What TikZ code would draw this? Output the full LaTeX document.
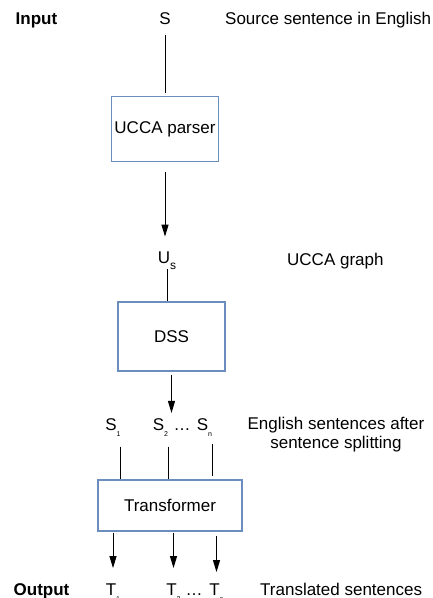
\documentclass[tikz,border=0pt]{standalone}
\usepackage{fontspec}
\setmainfont{Liberation Sans}
\usetikzlibrary{arrows.meta}
\definecolor{boxblue}{RGB}{108,142,191}
\newcommand{\lowsub}[2][7]{\raisebox{-6.5pt}{\fontsize{#1}{#1}\selectfont #2}}
\tikzset{
  lbl/.style={inner sep=0pt, font=\fontsize{17}{19}\selectfont},
  hdr/.style={inner sep=0pt, font=\fontsize{17}{19}\selectfont\bfseries},
  procbox/.style={draw=boxblue, line width=1.2pt, inner sep=0pt, font=\fontsize{17}{19}\selectfont},
  conn/.style={line width=1pt},
  flow/.style={line width=1pt, -{Triangle[width=7pt,length=12pt]}}
}

\begin{document}
\begin{tikzpicture}[x=1pt,y=-1pt]
		%%%%% START %%%%%
		\useasboundingbox (0,0) rectangle (432,598);
		
		\node[hdr, anchor=base] (input) at (36.5,24) {Input};
		\node[lbl, anchor=base] (src) at (165,24) {S};
		\node[lbl, anchor=base west] (srctxt) at (225,24) {Source sentence in English};
		
		\node[procbox, minimum width=106.6pt, minimum height=65pt] (parser) at (165,129.2) {UCCA parser};
		
		\node[lbl, anchor=base] (us) at (167,263) {U\lowsub[12]{s}};
		\node[lbl, anchor=base west] (ustxt) at (287,265) {UCCA graph};
		
		\node[procbox, minimum width=107pt, minimum height=69pt] (dss) at (171.5,336.5) {DSS};
		
		\node[lbl, anchor=base] (s1) at (113,430) {S\lowsub{1}};
		\node[lbl, anchor=base] (s2) at (160.5,430) {S\lowsub{2}};
		\node[lbl, anchor=base] (sdots) at (182,430) {\dots};
		\node[lbl, anchor=base] (sn) at (204.5,430) {S\lowsub{n}};
		\node[lbl, anchor=north, align=center] (stxt) at (336,416.5) {English sentences after\\sentence splitting};
		
		\node[procbox, minimum width=144pt, minimum height=51pt] (trans) at (170,505.5) {Transformer};
		
		\node[hdr, anchor=base] (output) at (41.5,595) {Output};
		\node[lbl, anchor=base] (t1) at (113,595) {T\lowsub{1}};
		\node[lbl, anchor=base] (t2) at (173.5,595) {T\lowsub{2}};
		\node[lbl, anchor=base] (tdots) at (194,595) {\dots};
		\node[lbl, anchor=base] (tn) at (216.5,595) {T\lowsub{n}};
		\node[lbl, anchor=base west] (ttxt) at (260,595) {Translated sentences};
		
		\draw[conn, shorten <=11pt, shorten >=3pt] (src.south) -- (src.south |- parser.north);
		\draw[flow, shorten <=10pt, shorten >=14.5pt] (parser.south) -- (parser.south |- us.north);
		\draw[conn, shorten <=-1pt] (us.south) -- (us.south |- dss.north);
		\draw[flow, shorten <=3pt, shorten >=5pt] (dss.south) -- (dss.south |- s2.north);
		
		\draw[conn, shorten <=10pt] (s1.south east) -- (s1.south east |- trans.north);
		\draw[conn, shorten <=10pt] (s2.south east) -- (s2.south east |- trans.north);
		\draw[conn, shorten <=7pt, shorten >=3pt] (sn.south east) -- (sn.south east |- trans.north);
		
		\draw[flow, shorten <=1pt, shorten >=15pt] (trans.south -| t1.north) -- (t1.north);
		\draw[flow, shorten <=1pt, shorten >=15pt] (trans.south -| t2.north) -- (t2.north);
		\draw[flow, shorten <=4pt, shorten >=11pt] (trans.south -| tn.north) -- (tn.north);
		
		%%%%% END %%%%%
	\end{tikzpicture}
\end{document}
